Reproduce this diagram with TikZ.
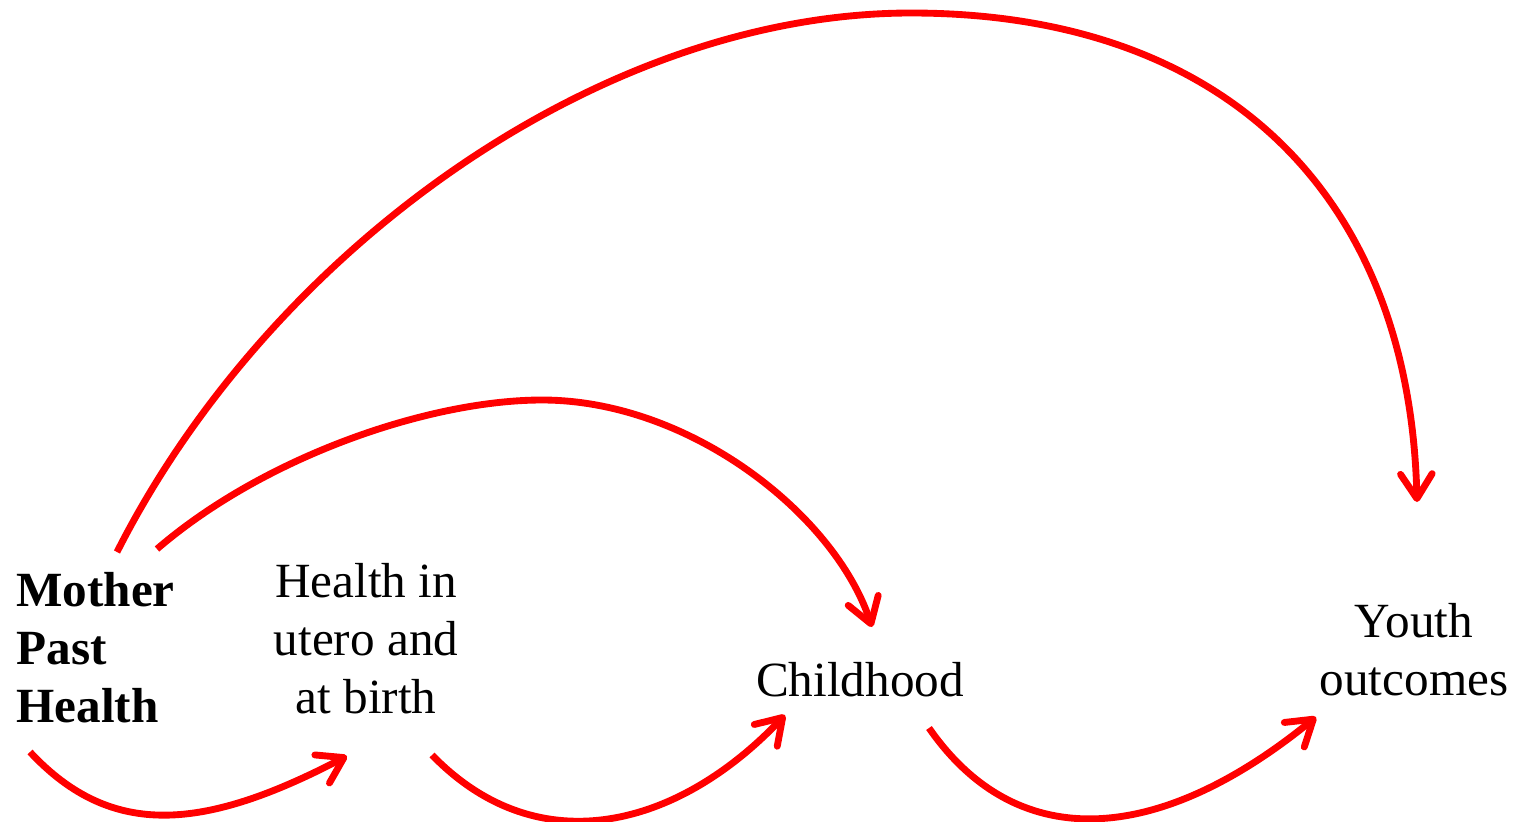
\documentclass[tikz,border=0pt]{standalone}
\usepackage{fontspec}
\setmainfont{Liberation Serif}
\usetikzlibrary{arrows.meta}
\begin{document}
\begin{tikzpicture}[
  x=0.02cm, y=-0.02cm,
  every node/.style={inner sep=0pt, align=center, font=\fontsize{28}{33}\selectfont},
  link/.style={draw=red, line width=3.9pt, -{Straight Barb[length=14pt,width=18pt,round]}}
]
\useasboundingbox (0,0) rectangle (1526,822);
\node[anchor=west, align=left, font=\fontsize{28}{33}\selectfont\bfseries] (mother) at (16,648) {Mother\\Past\\Health};
\node (utero) at (366,639) {Health in\\utero and\\at birth};
\node[anchor=base] (child) at (860,696) {Childhood};
\node (youth) at (1414,650) {Youth\\outcomes};
\coordinate (mother-low) at (30,752);
\coordinate (mother-top) at (117,552);
\coordinate (mother-mid) at (157,549);
\coordinate (utero-in) at (347,756);
\coordinate (utero-out) at (432,755);
\coordinate (child-in) at (785,715);
\coordinate (child-top) at (872,627);
\coordinate (child-out) at (929,728);
\coordinate (youth-in) at (1316,717);
\coordinate (youth-top) at (1417,502);
\draw[link] (mother-low) .. controls (112,840) and (205,830) .. (utero-in);
\draw[link] (utero-out) .. controls (540,866) and (680,826) .. (child-in);
\draw[link] (child-out) .. controls (1020,859) and (1164,841) .. (youth-in);
\draw[link] (mother-mid) .. controls (265,456) and (430,400) .. (542,400)
  .. controls (690,400) and (835,515) .. (child-top);
\draw[link] (mother-top) .. controls (270,250) and (600,13) .. (911,13)
  .. controls (1230,13) and (1410,200) .. (youth-top);
\end{tikzpicture}
\end{document}
